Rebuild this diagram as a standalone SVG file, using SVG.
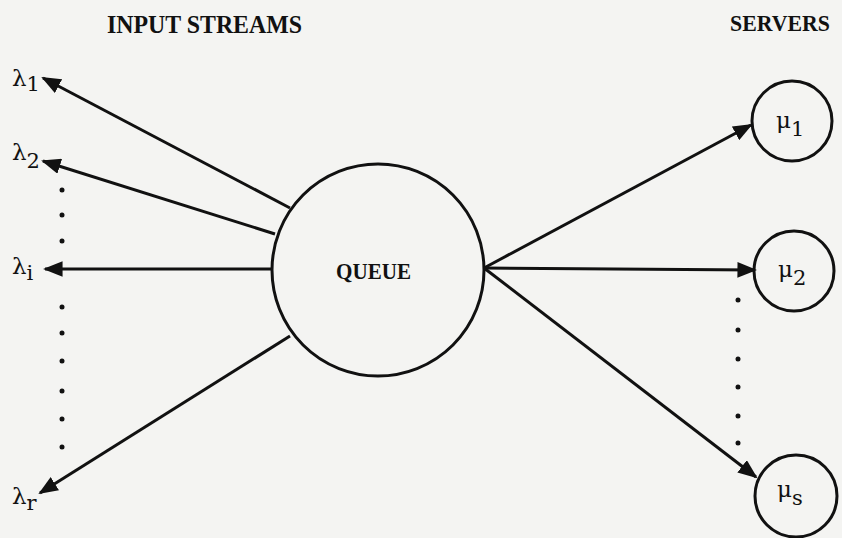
<svg xmlns="http://www.w3.org/2000/svg" width="842" height="538" viewBox="0 0 842 538">
<style>
.bg{fill:#f4f4f2}
.node{fill:none;stroke:#111;stroke-width:3}
.edge{stroke:#111;stroke-width:3;fill:none;marker-end:url(#ah)}
.t{font-family:"Liberation Serif",serif;font-weight:bold;fill:#111}
.g{font-family:"DejaVu Serif","Liberation Serif",serif;fill:#111}
.dot{fill:#111}
</style>
<defs>
<marker id="ah" viewBox="0 0 10 8" refX="9" refY="4" markerWidth="6.5" markerHeight="5.2" markerUnits="strokeWidth" orient="auto">
<path d="M0,0 L10,4 L0,8 z" fill="#111"/>
</marker>
</defs>
<rect class="bg" x="0" y="0" width="842" height="538"/>
<g id="titles">
<text class="t" x="107" y="33" font-size="25" textLength="195" lengthAdjust="spacingAndGlyphs">INPUT STREAMS</text>
<text class="t" x="730" y="31" font-size="23" textLength="100" lengthAdjust="spacingAndGlyphs">SERVERS</text>
</g>
<g id="queue">
<circle class="node" cx="378" cy="270" r="106"/>
<text class="t" x="336" y="279" font-size="23" textLength="75" lengthAdjust="spacingAndGlyphs">QUEUE</text>
</g>
<g id="server1">
<circle class="node" cx="792" cy="121" r="40"/>
<text class="g" x="776" y="128" font-size="23">μ<tspan font-size="21" dy="8">1</tspan></text>
</g>
<g id="server2">
<circle class="node" cx="794" cy="271" r="40"/>
<text class="g" x="778" y="277" font-size="23">μ<tspan font-size="21" dy="8">2</tspan></text>
</g>
<g id="servers">
<circle class="node" cx="796" cy="496" r="41"/>
<text class="g" x="777" y="497" font-size="23">μ<tspan font-size="21" dy="8">s</tspan></text>
</g>
<g id="lambda1"><text class="g" x="12" y="86" font-size="23">λ<tspan font-size="21" dy="5">1</tspan></text></g>
<g id="lambda2"><text class="g" x="12" y="160" font-size="23">λ<tspan font-size="21" dy="8">2</tspan></text></g>
<g id="lambdai"><text class="g" x="12" y="274" font-size="23">λ<tspan font-size="21" dy="6">i</tspan></text></g>
<g id="lambdar"><text class="g" x="12" y="504" font-size="23">λ<tspan font-size="21" dy="6">r</tspan></text></g>
<g id="connectors">
<line class="edge" x1="290" y1="208" x2="43" y2="78"/>
<line class="edge" x1="275" y1="234" x2="43" y2="161"/>
<line class="edge" x1="272" y1="269" x2="45" y2="269"/>
<line class="edge" x1="290" y1="336" x2="40" y2="493"/>
<line class="edge" x1="484" y1="268" x2="751" y2="125"/>
<line class="edge" x1="484" y1="268" x2="755" y2="270"/>
<line class="edge" x1="484" y1="268" x2="756" y2="477"/>
</g>
<g id="dots">
<circle class="dot" cx="62" cy="190" r="2.5"/>
<circle class="dot" cx="62" cy="215" r="2.5"/>
<circle class="dot" cx="62" cy="241" r="2.5"/>
<circle class="dot" cx="62" cy="307" r="2.5"/>
<circle class="dot" cx="62" cy="333" r="2.5"/>
<circle class="dot" cx="62" cy="361" r="2.5"/>
<circle class="dot" cx="62" cy="391" r="2.5"/>
<circle class="dot" cx="62" cy="419" r="2.5"/>
<circle class="dot" cx="62" cy="447" r="2.5"/>
<circle class="dot" cx="738" cy="300" r="2.5"/>
<circle class="dot" cx="738" cy="330" r="2.5"/>
<circle class="dot" cx="738" cy="359" r="2.5"/>
<circle class="dot" cx="738" cy="387" r="2.5"/>
<circle class="dot" cx="738" cy="416" r="2.5"/>
<circle class="dot" cx="738" cy="443" r="2.5"/>
</g>
</svg>
